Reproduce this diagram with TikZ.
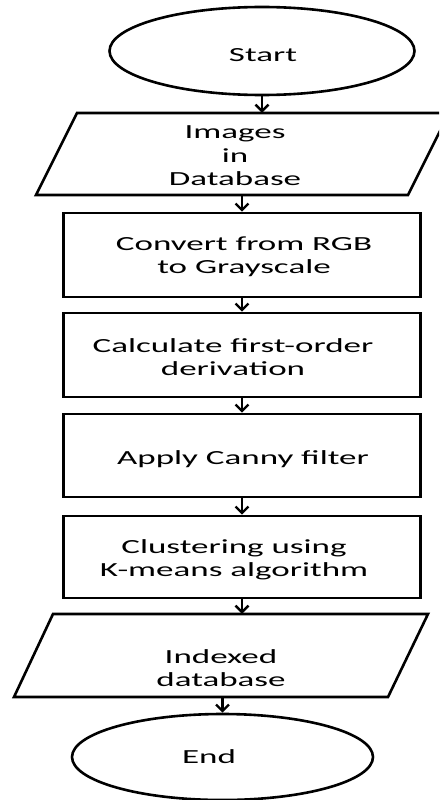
\documentclass[tikz,border=0pt]{standalone}
\usepackage{fontspec}
\setmainfont{Carlito}[FakeStretch=1.75]
\usetikzlibrary{shapes.geometric,arrows.meta}
\begin{document}
\begin{tikzpicture}[x=1pt,y=-1pt,
  shp/.style={draw=black, line width=2.6pt, inner sep=0pt},
  term/.style={shp, ellipse},
  proc/.style={shp, rectangle, minimum width=357pt, minimum height=84pt},
  io/.style={inner sep=0pt, minimum width=372pt},
  txt/.style={font=\fontsize{20}{23.5}\selectfont, align=center, inner sep=0pt, text=black},
  arr/.style={line width=2.4pt, -{Straight Barb[length=6.5pt,width=13pt,line width=2.4pt]}}]
\clip (0,0) rectangle (439,800);
% shapes
\node[term, minimum width=305pt, minimum height=88pt] (start) at (262,51) {};
\node[io, minimum height=82pt] (in1) at (242.5,154) {};
\draw[shp, line join=miter] (77,113) -- (449,113) -- (408,195) -- (36,195) -- cycle;
\node[proc] (box1) at (242,255) {};
\node[proc] (box2) at (242,355) {};
\node[proc, minimum height=83pt] (box3) at (242,455.5) {};
\node[proc, minimum height=82pt] (box4) at (242,557) {};
\node[io, minimum height=83pt] (in2) at (221,655.5) {};
\draw[shp, line join=miter] (53,614) -- (428,614) -- (388,697) -- (14,697) -- cycle;
\node[term, minimum width=301pt, minimum height=86pt] (end) at (222.5,757) {};
% texts
\node[txt] (t0) at (263,55) {Start};
\node[txt] (t1) at (235,156) {Images\\in\\Database};
\node[txt] (t2) at (244,257) {Convert from  RGB\\to Grayscale};
\node[txt] (t3) at (233,357) {Calculate first-order\\derivation};
\node[txt] (t4) at (243,459) {Apply Canny filter};
\node[txt] (t5) at (234,560) {Clustering using\\K-means algorithm};
\node[txt] (t6) at (221,668) {Indexed\\database};
\node[txt] (t7) at (209,757) {End};
% connectors
\draw[arr] (start.south) -- (start.south |- in1.north);
\draw[arr] (box1.north |- in1.south) -- (box1.north);
\draw[arr] (box1.south) -- (box2.north);
\draw[arr] (box2.south) -- (box3.north);
\draw[arr] (box3.south) -- (box4.north);
\draw[arr] (box4.south) -- (box4.south |- in2.north);
\draw[arr] (end.north |- in2.south) -- (end.north);
\end{tikzpicture}
\end{document}
